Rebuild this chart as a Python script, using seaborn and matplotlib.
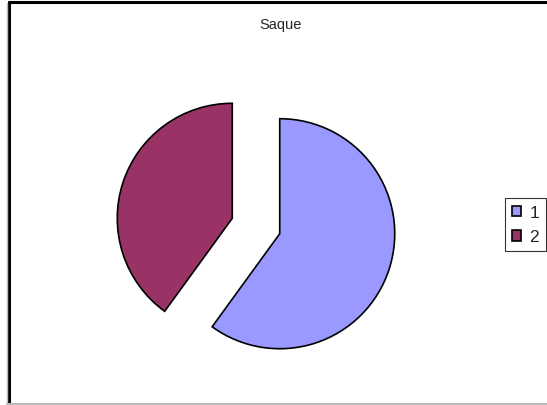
import seaborn as sns
import matplotlib.pyplot as plt
from matplotlib.lines import Line2D

# data
labels = ["1", "2"]
values = [60, 40]
colors = ["#9999FF", "#993366"]
title = "Saque"

sns.set_style("white")
plt.rcParams['font.family'] = ['Liberation Sans', 'DejaVu Sans']

W, H = 547, 406
fig = plt.figure(figsize=(W / 100, H / 100), dpi=100)

# axes placed so that 1 data unit = 115 px, pie centre at (256, 227) px from top-left
r = 115
cx, cy = 256, H - 227
ax = fig.add_axes([(cx - 2 * r) / W, (cy - 1.5 * r) / H, 4 * r / W, 3 * r / H])

wedges, _ = ax.pie(values, colors=colors, startangle=90, counterclock=False,
                   explode=[0.217, 0.217],
                   wedgeprops=dict(edgecolor="black", linewidth=1.2))
ax.set_xlim(-2, 2)
ax.set_ylim(-1.5, 1.5)
ax.set_aspect("equal")
ax.axis("off")

fig.text(281 / W, 1 - 25 / H, title, ha="center", va="center", fontsize=10.5)

leg = fig.legend(wedges, labels, loc="upper right",
                 bbox_to_anchor=(546 / W, 1 - 199 / H),
                 frameon=True, fancybox=False, edgecolor="black",
                 fontsize=12.5, handlelength=0.55, handleheight=0.55,
                 handletextpad=0.45, borderpad=0.4, labelspacing=0.55,
                 borderaxespad=0)
leg.get_frame().set_linewidth(0.8)

# chart frame
fig.add_artist(Line2D([8.5 / W, 1], [1 - 2.5 / H, 1 - 2.5 / H], transform=fig.transFigure, color="black", lw=2.2))
fig.add_artist(Line2D([8.5 / W, 8.5 / W], [1 - 2.5 / H, 2 / H], transform=fig.transFigure, color="black", lw=2.2))
fig.add_artist(Line2D([6.5 / W, 6.5 / W], [1 - 4 / H, 1.5 / H], transform=fig.transFigure, color="#bbbbbb", lw=1))
fig.add_artist(Line2D([6.5 / W, 1], [1.5 / H, 1.5 / H], transform=fig.transFigure, color="#bbbbbb", lw=1.5))

fig.savefig("out.png", dpi=100)
